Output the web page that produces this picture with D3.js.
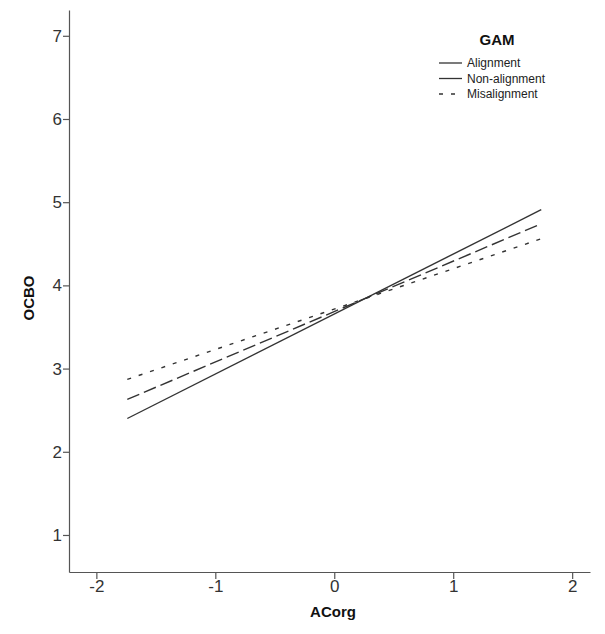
<!DOCTYPE html>
<html><head><meta charset="utf-8">
<script src="https://cdn.jsdelivr.net/npm/d3@7/dist/d3.min.js"></script>
<style>body{margin:0;background:#fff}svg{display:block}text{font-family:"Liberation Sans",Arial,sans-serif}</style>
</head><body>
<script>
const seriesNames = ["Alignment", "Non-alignment", "Misalignment"];
const xEnds = [-1.74, 1.74];
const alignment = [2.40, 4.91];
const nonAlignment = [2.63, 4.74];
const misalignment = [2.87, 4.56];
const xTicks = [-2, -1, 0, 1, 2];
const yTicks = [1, 2, 3, 4, 5, 6, 7];

const W = 605, H = 634;
const svg = d3.select("body").append("svg").attr("width", W).attr("height", H);
const x = d3.scaleLinear().domain([-2.23, 2.15]).range([69, 590]);
const y = d3.scaleLinear().domain([0.555, 7.31]).range([572, 10]);

const axisColor = "#555";
const tickFont = "'Liberation Sans Narrow','Arial Narrow','Liberation Sans',sans-serif";
const gy = svg.append("g").attr("transform", "translate(69,0)")
  .call(d3.axisLeft(y).tickValues(yTicks).tickSize(6).tickSizeOuter(0).tickFormat(d3.format("d")));
const gx = svg.append("g").attr("transform", "translate(0,572)")
  .call(d3.axisBottom(x).tickValues(xTicks).tickSize(7).tickSizeOuter(0).tickFormat(d => d < 0 ? "-" + Math.abs(d) : d));
[gx, gy].forEach(g => {
  g.select(".domain").attr("stroke", axisColor).attr("stroke-width", 1.2);
  g.selectAll(".tick line").attr("stroke", axisColor).attr("stroke-width", 1.2);
  g.selectAll(".tick text").attr("fill", "#333").attr("font-size", 17).attr("font-family", tickFont);
});
gy.selectAll(".tick text").attr("x", -7);
gx.selectAll(".tick text").attr("dy", "0.78em").attr("y", 7);

svg.append("text").attr("x", 333).attr("y", 617).attr("text-anchor", "middle")
  .attr("font-size", 15).attr("font-weight", "bold").attr("fill", "#111").text("ACorg");
svg.append("text").attr("transform", "translate(34,298) rotate(-90)").attr("text-anchor", "middle")
  .attr("font-size", 15).attr("font-weight", "bold").attr("fill", "#111").text("OCBO");

const data = [alignment, nonAlignment, misalignment];
const dashes = [null, "13,5", "4,8"];
const line = d3.line().x((d, i) => x(xEnds[i])).y(d => y(d));
data.forEach((s, i) => {
  svg.append("path").attr("d", line(s)).attr("fill", "none").attr("stroke", "#333")
    .attr("stroke-width", 1.4).attr("stroke-dasharray", dashes[i]);
});

// legend
svg.append("text").attr("x", 497).attr("y", 45).attr("text-anchor", "middle")
  .attr("font-size", 15).attr("font-weight", "bold").attr("fill", "#111").text("GAM");
const legDash = [null, null, "4,8"];
seriesNames.forEach((n, i) => {
  const ly = 63 + i * 15.5;
  svg.append("line").attr("x1", 439).attr("x2", 462).attr("y1", ly).attr("y2", ly)
    .attr("stroke", "#333").attr("stroke-width", 1.3).attr("stroke-dasharray", legDash[i]);
  svg.append("text").attr("x", 467).attr("y", ly + 4).attr("font-size", 12).attr("fill", "#222").text(n);
});
</script>
</body></html>
